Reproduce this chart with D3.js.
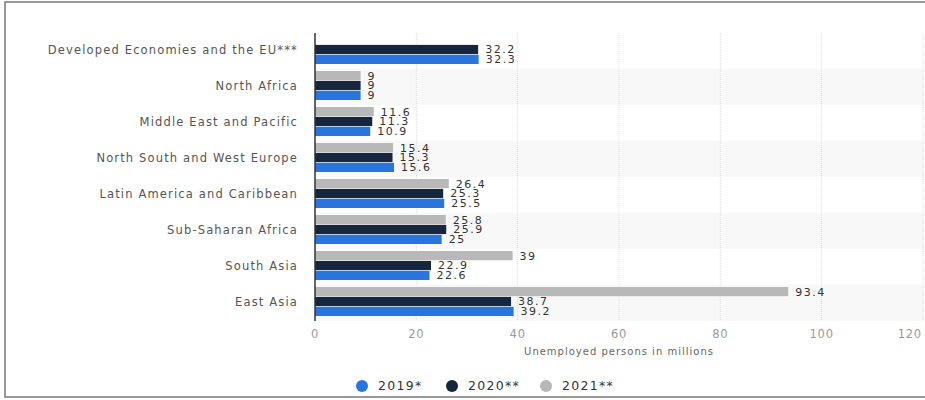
<!DOCTYPE html>
<html>
<head>
<meta charset="utf-8">
<script src="https://cdn.jsdelivr.net/npm/d3@7"></script>
<style>
  body { margin: 0; background: #fff; }
  text { font-family: "DejaVu Sans", sans-serif; }
</style>
</head>
<body>
<div id="chart"></div>
<script>
const regions = ['Developed Economies and the EU***', 'North Africa', 'Middle East and Pacific',
  'North South and West Europe', 'Latin America and Caribbean', 'Sub-Saharan Africa',
  'South Asia', 'East Asia'];
const years = ['2019*', '2020**', '2021**'];
const v2019 = [32.3, 9, 10.9, 15.6, 25.5, 25, 22.6, 39.2];
const v2020 = [32.2, 9, 11.3, 15.3, 25.3, 25.9, 22.9, 38.7];
const v2021 = [null, 9, 11.6, 15.4, 26.4, 25.8, 39, 93.4];
const xTicks = [0, 20, 40, 60, 80, 100, 120];

const colors = {'2019*': '#2876dd', '2020**': '#14273f', '2021**': '#b8b8b8'};
const width = 925;
const height = 400;
const plotLeft = 315, plotRight = 923, plotTop = 33, plotBottom = 321;

const data = regions.map((r, i) => ({
  region: r,
  values: [
    {year: '2021**', v: v2021[i]},
    {year: '2020**', v: v2020[i]},
    {year: '2019*', v: v2019[i]}
  ]
}));

const svg = d3.select('#chart').append('svg')
  .attr('width', width)
  .attr('height', height);

// outer frame
svg.append('rect')
  .attr('x', 5).attr('y', 2)
  .attr('width', width + 10).attr('height', 395)
  .attr('fill', 'none')
  .attr('stroke', '#777')
  .attr('stroke-width', 1.5);

const xScale = d3.scaleLinear().domain([0, 120]).range([plotLeft, plotRight]);
const yScale = d3.scaleBand().domain(regions).range([plotTop, plotBottom]);
const inner = d3.scaleBand().domain(['2021**', '2020**', '2019*'])
  .range([2, 31]).paddingInner(0.07);

// alternating row shading
svg.selectAll('rect.band').data(regions.filter((d, i) => i % 2 === 1))
  .enter().append('rect')
  .attr('class', 'band')
  .attr('x', plotLeft).attr('width', plotRight - plotLeft)
  .attr('y', d => yScale(d)).attr('height', yScale.bandwidth())
  .attr('fill', '#f8f8f8');

// grid lines
svg.selectAll('line.grid').data(xTicks.slice(1))
  .enter().append('line')
  .attr('class', 'grid')
  .attr('x1', d => xScale(d)).attr('x2', d => xScale(d))
  .attr('y1', plotTop).attr('y2', plotBottom)
  .attr('stroke', '#ddd')
  .attr('stroke-dasharray', '1,1');

// bars
const groups = svg.selectAll('g.group').data(data)
  .enter().append('g')
  .attr('transform', d => `translate(0,${yScale(d.region)})`);

const bars = groups.selectAll('g.bar').data(d => d.values.filter(e => e.v !== null))
  .enter().append('g');

bars.append('rect')
  .attr('x', xScale(0))
  .attr('y', d => inner(d.year))
  .attr('width', d => xScale(d.v) - xScale(0))
  .attr('height', inner.bandwidth())
  .attr('fill', d => colors[d.year]);

bars.append('text')
  .attr('x', d => xScale(d.v) + 7)
  .attr('y', d => inner(d.year) + inner.bandwidth() / 2)
  .attr('dy', '0.36em')
  .attr('font-size', 11)
  .attr('letter-spacing', 1.5)
  .attr('fill', '#333')
  .text(d => d.v);

// category labels
svg.selectAll('text.cat').data(regions)
  .enter().append('text')
  .attr('class', 'cat')
  .attr('x', 298)
  .attr('y', d => yScale(d) + yScale.bandwidth() / 2 - 1)
  .attr('dy', '0.35em')
  .attr('text-anchor', 'end')
  .attr('font-size', 11.5)
  .attr('letter-spacing', 1.15)
  .attr('fill', '#555')
  .text(d => d);

// axis line
svg.append('line')
  .attr('x1', plotLeft).attr('x2', plotLeft)
  .attr('y1', plotTop).attr('y2', plotBottom)
  .attr('stroke', '#333').attr('stroke-width', 1.5);

// x tick labels (last one kept inside the frame)
svg.selectAll('text.tick').data(xTicks)
  .enter().append('text')
  .attr('x', (d, i) => i === xTicks.length - 1 ? xScale(d) - 1 : xScale(d))
  .attr('y', 338)
  .attr('text-anchor', (d, i) => i === xTicks.length - 1 ? 'end' : 'middle')
  .attr('font-size', 11.5)
  .attr('letter-spacing', 0.8)
  .attr('fill', '#999')
  .text(d => d);

svg.append('text')
  .attr('x', (plotLeft + plotRight) / 2)
  .attr('y', 355)
  .attr('text-anchor', 'middle')
  .attr('font-size', 10)
  .attr('letter-spacing', 1)
  .attr('fill', '#666')
  .text('Unemployed persons in millions');

// legend
const legendX = [362, 452, 546];
const legend = svg.selectAll('g.legend').data(years)
  .enter().append('g')
  .attr('transform', (d, i) => `translate(${legendX[i]},386)`);

legend.append('circle')
  .attr('r', 6)
  .attr('fill', d => colors[d]);

legend.append('text')
  .attr('x', 16)
  .attr('dy', '0.35em')
  .attr('font-size', 12.5)
  .attr('letter-spacing', 1.3)
  .attr('fill', '#333')
  .text(d => d);
</script>
</body>
</html>
